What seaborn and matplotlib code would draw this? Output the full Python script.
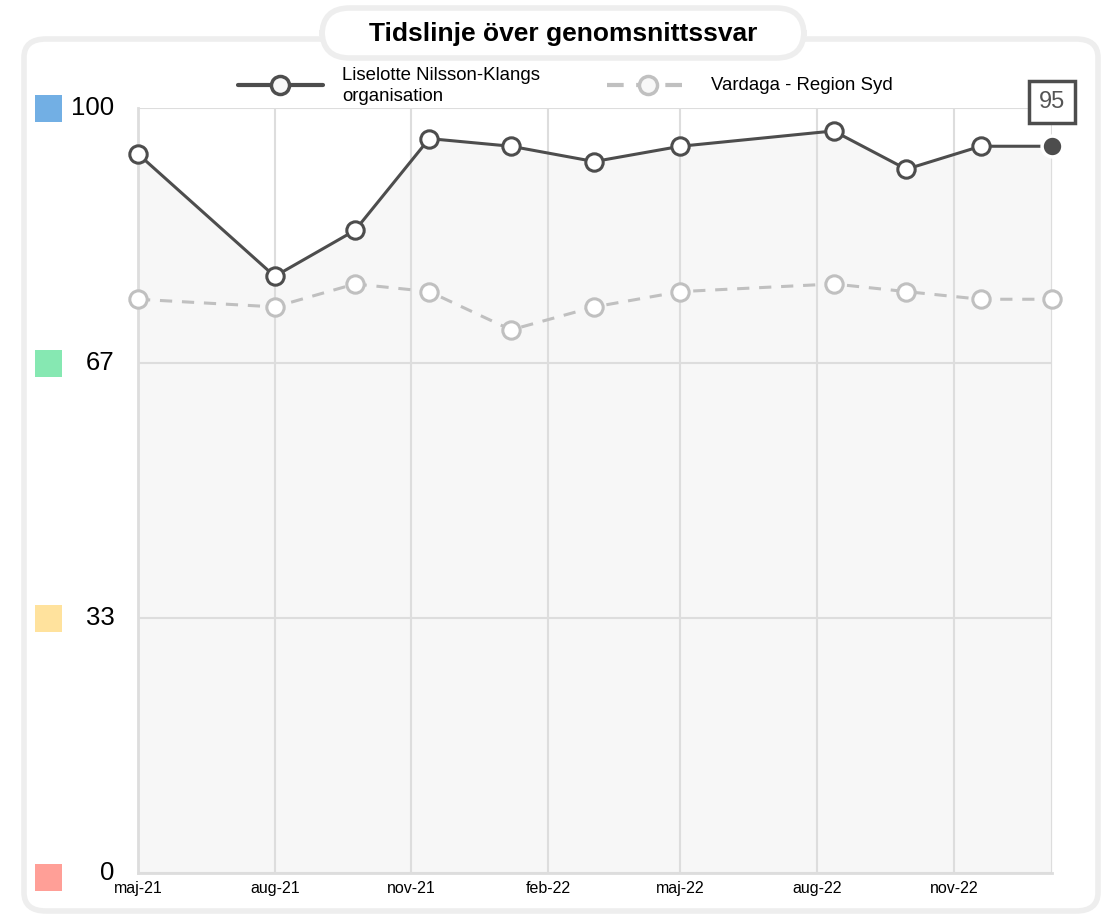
import pandas as pd
import numpy as np
import matplotlib
matplotlib.use("Agg")
import matplotlib.pyplot as plt
import matplotlib.dates as mdates
from matplotlib.patches import FancyBboxPatch, Rectangle
from matplotlib.lines import Line2D
import seaborn as sns

# data
dates = ["2021-05-01", "2021-08-01", "2021-09-24", "2021-11-13", "2022-01-07", "2022-03-04",
         "2022-05-01", "2022-08-12", "2022-09-30", "2022-11-19", "2023-01-06"]
org_values = [94, 78, 84, 96, 95, 93, 95, 97, 92, 95, 95]
region_values = [75, 74, 77, 76, 71, 74, 76, 77, 76, 75, 75]
org_name = "Liselotte Nilsson-Klangs\norganisation"
region_name = "Vardaga - Region Syd"
tick_dates = ["2021-05-01", "2021-08-01", "2021-11-01", "2022-02-01", "2022-05-01", "2022-08-01", "2022-11-01"]
tick_labels = ["maj-21", "aug-21", "nov-21", "feb-22", "maj-22", "aug-22", "nov-22"]
y_ticks = [0, 100 / 3, 200 / 3, 100]
y_labels = ["0", "33", "67", "100"]
y_colors = ["#ff9f97", "#ffe29d", "#86e8b2", "#72afe4"]

dark = "#4d4d4d"
grey = "#c0c0c0"

df = pd.DataFrame({"date": pd.to_datetime(dates), "org": org_values, "region": region_values})

sns.set_style("white")
plt.rcParams['font.family'] = ['Liberation Sans', 'DejaVu Sans']
plt.rcParams['text.color'] = 'black'
plt.rcParams['xtick.color'] = 'black'
plt.rcParams['ytick.color'] = 'black'

fig = plt.figure(figsize=(11.06, 9.17), dpi=100)
ax = fig.add_axes([138 / 1106, 1 - 873 / 917, (1052 - 138) / 1106, (873 - 108) / 917])

#outer frame and title pill
fig.patches.append(FancyBboxPatch((24 / 1106, 1 - 911 / 917), 1074 / 1106, 872 / 917,
                                  boxstyle="round,pad=0,rounding_size=0.02", transform=fig.transFigure,
                                  facecolor="white", edgecolor="#eeeeee", linewidth=4, zorder=0))
fig.patches.append(FancyBboxPatch((322 / 1106, 1 - 58 / 917), 482 / 1106, 50 / 917,
                                  boxstyle="round,pad=0,rounding_size=0.025", transform=fig.transFigure,
                                  facecolor="white", edgecolor="#eeeeee", linewidth=4, zorder=1,
                                  mutation_aspect=1.2))
fig.text(563 / 1106, 1 - 34 / 917, "Tidslinje över genomsnittssvar", ha="center", va="center",
         fontsize=19, fontweight="bold", zorder=2)

#fill under the organisation line
ax.fill_between(df["date"], df["org"], 0, color="#f7f7f7", zorder=0, linewidth=0)

sns.lineplot(data=df, x="date", y="region", ax=ax, color=grey, linewidth=2.2, linestyle=(0, (4, 3.2)),
             marker="o", markersize=12.5, markerfacecolor="white", markeredgecolor=grey,
             markeredgewidth=2.2, zorder=3, clip_on=False)
sns.lineplot(data=df, x="date", y="org", ax=ax, color=dark, linewidth=2.2,
             marker="o", markersize=12.5, markerfacecolor="white", markeredgecolor=dark,
             markeredgewidth=2.2, markevery=list(range(len(df) - 1)), zorder=4, clip_on=False)
ax.plot(df["date"].iloc[-1], df["org"].iloc[-1], marker="o", markersize=15, color=dark,
        markeredgecolor="white", markeredgewidth=2.5, zorder=5, clip_on=False)
ax.annotate(str(org_values[-1]), (df["date"].iloc[-1], df["org"].iloc[-1]), xytext=(0, 32),
            textcoords="offset points", ha="center", va="center", fontsize=17, color="#555555",
            bbox=dict(boxstyle="square,pad=0.42", facecolor="white", edgecolor=dark, linewidth=2.5),
            zorder=6, annotation_clip=False)

ax.set_ylim(0, 100)
ax.set_xlim(pd.Timestamp("2021-05-01"), pd.Timestamp("2023-01-06"))
ax.set_xticks(pd.to_datetime(tick_dates))
ax.set_xticklabels(tick_labels, fontsize=11.5)
ax.set_yticks(y_ticks)
ax.set_yticklabels(y_labels, fontsize=18.5)
ax.tick_params(axis="y", length=0, pad=17)
ax.tick_params(axis="x", length=0, pad=6)
for lab in ax.get_yticklabels():
    lab.set_va("center")
ax.set_xlabel("")
ax.set_ylabel("")
ax.grid(True, color="#dddddd", linewidth=1.5)
ax.axvline(pd.Timestamp("2023-01-06"), color="#dddddd", linewidth=1.5, zorder=0)
for s in ["top", "right"]:
    ax.spines[s].set_visible(False)
for s in ["left", "bottom"]:
    ax.spines[s].set_color("#dddddd")
    ax.spines[s].set_linewidth(2)
ax.set_facecolor("white")
ax.set_zorder(2)
ax.patch.set_alpha(0)

#coloured squares beside the y labels
for yv, c in zip(y_ticks, y_colors):
    yp = 1 - (873 - yv * 7.65) / 917
    if yv == 0:
        yp = 1 - 877 / 917
    fig.patches.append(Rectangle((35 / 1106, yp - 13.5 / 917), 27 / 1106, 27 / 917,
                                 transform=fig.transFigure, facecolor=c, edgecolor="none", zorder=3))

#legend drawn by hand
ly = 1 - 85 / 917
fig.lines.append(Line2D([238 / 1106, 323 / 1106], [ly, ly], transform=fig.transFigure, color=dark,
                        linewidth=3, zorder=3))
fig.lines.append(Line2D([280 / 1106], [ly], transform=fig.transFigure, marker="o", markersize=13,
                        markerfacecolor="#f7f7f7", markeredgecolor=dark, markeredgewidth=2.5, zorder=4))
fig.text(342 / 1106, 1 - 86 / 917, org_name, ha="left", va="center", fontsize=13.4, linespacing=1.3)
fig.lines.append(Line2D([607 / 1106, 690 / 1106], [ly, ly], transform=fig.transFigure, color=grey,
                        linewidth=3, linestyle=(0, (4, 3)), zorder=3))
fig.lines.append(Line2D([648 / 1106], [ly], transform=fig.transFigure, marker="o", markersize=13,
                        markerfacecolor="#f7f7f7", markeredgecolor=grey, markeredgewidth=2.5, zorder=4))
fig.text(711 / 1106, ly, region_name, ha="left", va="center", fontsize=13.4)

fig.savefig("out.png", dpi=100)
